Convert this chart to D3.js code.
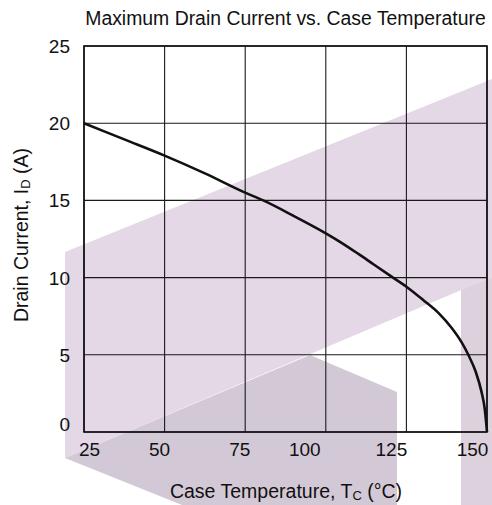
<!DOCTYPE html>
<html><head><meta charset="utf-8">
<script src="https://cdn.jsdelivr.net/npm/d3@7/dist/d3.min.js"></script>
<style>
html,body{margin:0;padding:0;background:#fff;}
svg{display:block;font-family:"Liberation Sans",Arial,Helvetica,sans-serif;}
</style></head>
<body>
<svg id="chart" width="492" height="505"></svg>
<script>
// ---- data ----
const title = "Maximum Drain Current vs. Case Temperature";
const xTicks = [25, 50, 75, 100, 125, 150];
const yTicks = [0, 5, 10, 15, 20, 25];
const caseTemp = [25, 37.5, 50, 62.5, 75, 80.6, 90, 100, 104.4, 110, 115, 120.4, 125, 130.2, 135, 139, 142, 144.2, 146.5, 148.3, 149.3, 150];
const drainCurrent = [20, 18.95, 17.9, 16.75, 15.5, 15.0, 14.0, 12.87, 12.32, 11.55, 10.83, 10.06, 9.41, 8.55, 7.7, 6.75, 5.85, 5.0, 3.9, 2.6, 1.5, 0];

// ---- layout ----
const m = {left: 84, right: 487, top: 46, bottom: 432};
const xTickShift = [5, -5.5, -6, -21.5, -15.5, -15];
const svg = d3.select("#chart");

// watermark decoration (background logo)
const bg = svg.append("g");
bg.append("polygon").attr("points", "65,252 492,79 492,277 65,458").attr("fill", "#e4d7e6");
bg.append("polygon").attr("points", "461,290 492,277 492,505 461,505").attr("fill", "#ddd1de");
bg.append("polygon").attr("points", "65,458 310,355 397,392 397,505 182,505").attr("fill", "#d3c9d6");

const x = d3.scaleLinear().domain([25, 150]).range([m.left, m.right]);
const y = d3.scaleLinear().domain([0, 25]).range([m.bottom, m.top]);

// grid
const grid = svg.append("g").attr("stroke", "#1a1a1a").attr("stroke-width", 1.1).attr("fill", "none");
grid.selectAll("line.v").data(xTicks).join("line")
  .attr("x1", d => x(d)).attr("x2", d => x(d)).attr("y1", m.top).attr("y2", m.bottom);
grid.selectAll("line.h").data(yTicks).join("line")
  .attr("x1", m.left).attr("x2", m.right).attr("y1", d => y(d)).attr("y2", d => y(d));
svg.append("rect").attr("x", m.left).attr("y", m.top).attr("width", m.right - m.left).attr("height", m.bottom - m.top)
  .attr("fill", "none").attr("stroke", "#111").attr("stroke-width", 1.6);

// curve
const pts = caseTemp.map((t, i) => [t, drainCurrent[i]]);
svg.append("path").datum(pts)
  .attr("d", d3.line().x(d => x(d[0])).y(d => y(d[1])).curve(d3.curveMonotoneX))
  .attr("fill", "none").attr("stroke", "#111").attr("stroke-width", 2.6);

// x tick labels
const xAxis = d3.axisBottom(x).tickValues(xTicks).tickSize(0).tickPadding(0);
const gx = svg.append("g").attr("transform", `translate(0,${m.bottom})`).call(xAxis);
gx.select(".domain").remove();
gx.selectAll("text").attr("font-size", 19).attr("fill", "#111").attr("font-family", "Liberation Sans, Arial, sans-serif")
  .attr("dy", null).attr("y", 24).attr("dx", (d, i) => xTickShift[i]);

// y tick labels
const yAxis = d3.axisLeft(y).tickValues(yTicks).tickSize(0).tickPadding(0);
const gy = svg.append("g").attr("transform", `translate(70,0)`).call(yAxis);
gy.select(".domain").remove();
gy.selectAll("text").attr("font-size", 19).attr("fill", "#111").attr("font-family", "Liberation Sans, Arial, sans-serif")
  .attr("x", 0).attr("dy", d => d === 0 ? "-0.1em" : "0.34em");

// title
svg.append("text").attr("x", 285.5).attr("y", 25).attr("text-anchor", "middle")
  .attr("font-size", 19.4).attr("fill", "#111").text(title);

// x axis title
const xt = svg.append("text").attr("x", 286).attr("y", 498).attr("text-anchor", "middle")
  .attr("font-size", 19.5).attr("fill", "#111");
xt.append("tspan").text("Case Temperature, T");
xt.append("tspan").attr("font-size", 13).attr("dy", 2).text("C");
xt.append("tspan").attr("dy", -2).text(" (°C)");

// y axis title
const yt = svg.append("text").attr("transform", "translate(28,235) rotate(-90)").attr("text-anchor", "middle")
  .attr("font-size", 19.5).attr("fill", "#111");
yt.append("tspan").text("Drain Current, I");
yt.append("tspan").attr("font-size", 13).attr("dy", 2).text("D");
yt.append("tspan").attr("dy", -2).text(" (A)");
</script>
</body></html>
